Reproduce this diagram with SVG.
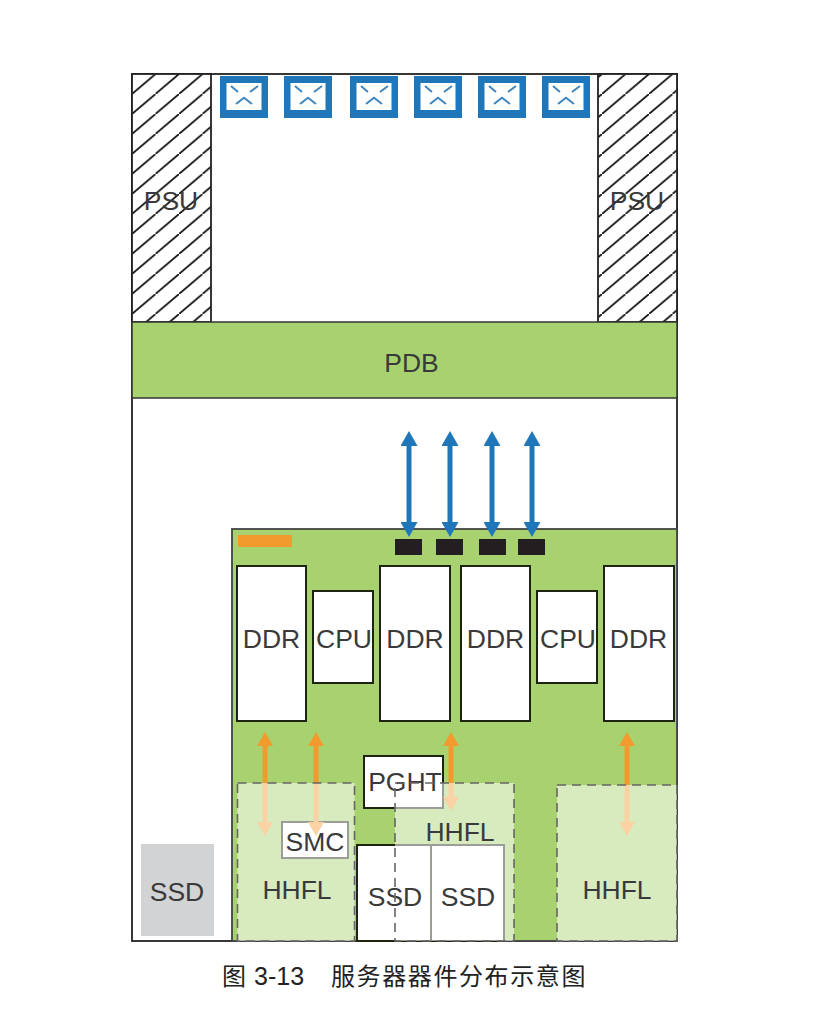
<svg xmlns="http://www.w3.org/2000/svg" width="816" height="1024" viewBox="0 0 816 1024">
  <style>
    text { font-family: "Liberation Sans", "Noto Sans CJK SC", sans-serif; font-size: 26.5px; fill: #3a3a3a; text-anchor: middle; }
    .cap { font-size: 24px; fill: #222; text-anchor: start; }
    .chip { fill: #fff; stroke: #1d2410; stroke-width: 2; }
    .fanbody { fill: #1f76b8; }
    .fanface { fill: #fff; }
    .fanmark { fill: none; stroke: #3f86bd; stroke-width: 2; }
    .port { fill: #231f20; }
    .veil { fill: #fff; fill-opacity: .56; }
    .edge { fill: none; stroke: #666; stroke-width: 1.6; stroke-dasharray: 9 6; }
    .blue { stroke: #1f76b8; stroke-width: 5; marker-start: url(#headBlue); marker-end: url(#headBlue); }
    .orange { stroke: #f39a2e; stroke-width: 5; marker-start: url(#headOrange); marker-end: url(#headOrange); }
  </style>
  <defs>
    <pattern id="hatch" patternUnits="userSpaceOnUse" x="132" y="74" width="23.5" height="20">
      <path d="M-2 21.7L25.5 -1.7" stroke="#1a1a1a" stroke-width="1.8" fill="none"/>
    </pattern>
    <marker id="headBlue" markerUnits="userSpaceOnUse" markerWidth="17" markerHeight="17" viewBox="0 0 17 17" refX="5" refY="8.5" orient="auto-start-reverse">
      <path d="M0 0L15 8.5L0 17Z" fill="#1f76b8"/>
    </marker>
    <marker id="headOrange" markerUnits="userSpaceOnUse" markerWidth="16" markerHeight="16" viewBox="0 0 16 16" refX="4" refY="8" orient="auto-start-reverse">
      <path d="M0 0L14 8L0 16Z" fill="#f39a2e"/>
    </marker>
    <g id="fan">
      <rect class="fanbody" x="0" y="0" width="48" height="42"/>
      <rect class="fanface" x="6.500" y="7" width="35" height="27"/>
      <path class="fanmark" d="M11 10L18 16M38 10L30 16M16 28L24 21.700L32 28"/>
    </g>
  </defs>

  <g id="chassis">
    <rect x="132" y="74" width="545" height="867" fill="#fff" stroke="#222" stroke-width="1.8"/>
  </g>

  <g id="psu-left">
    <rect x="132" y="74" width="79" height="248" fill="#fff"/>
    <rect x="132" y="74" width="79" height="248" fill="url(#hatch)" stroke="#222" stroke-width="1.8"/>
    <text x="171" y="210">PSU</text>
  </g>
  <g id="psu-right">
    <rect x="598" y="74" width="79" height="248" fill="#fff"/>
    <rect x="598" y="74" width="79" height="248" fill="url(#hatch)" stroke="#222" stroke-width="1.8"/>
    <text x="637" y="210">PSU</text>
  </g>

  <g id="fans">
    <use href="#fan" x="220" y="76"/>
    <use href="#fan" x="284" y="76"/>
    <use href="#fan" x="350" y="76"/>
    <use href="#fan" x="414" y="76"/>
    <use href="#fan" x="478" y="76"/>
    <use href="#fan" x="542" y="76"/>
  </g>

  <g id="pdb">
    <rect x="132" y="322" width="545" height="76" fill="#a7d26f" stroke="#333" stroke-width="1.5"/>
    <text x="411.500" y="372">PDB</text>
  </g>

  <g id="board">
    <rect x="232" y="529" width="445" height="412" fill="#a7d26f" stroke="#444" stroke-width="1.8"/>
    <rect x="238" y="535" width="54" height="12" fill="#f39a2e"/>
    <rect class="port" x="395" y="539" width="27" height="16"/>
    <rect class="port" x="436" y="539" width="27" height="16"/>
    <rect class="port" x="479" y="539" width="27" height="16"/>
    <rect class="port" x="518" y="539" width="27" height="16"/>
  </g>

  <g id="ddr-1"><rect class="chip" x="237" y="566" width="69" height="155"/><text x="271.500" y="648">DDR</text></g>
  <g id="cpu-1"><rect class="chip" x="313" y="591" width="60" height="92"/><text x="344" y="648">CPU</text></g>
  <g id="ddr-2"><rect class="chip" x="380" y="566" width="70" height="155"/><text x="415" y="648">DDR</text></g>
  <g id="ddr-3"><rect class="chip" x="461" y="566" width="69" height="155"/><text x="495.500" y="648">DDR</text></g>
  <g id="cpu-2"><rect class="chip" x="537" y="591" width="60" height="92"/><text x="568" y="648">CPU</text></g>
  <g id="ddr-4"><rect class="chip" x="604" y="566" width="70" height="155"/><text x="638.500" y="648">DDR</text></g>

  <g id="pght-box"><rect class="chip" x="364" y="756" width="79" height="52"/></g>
  <g id="smc-box"><rect class="chip" x="282" y="822" width="66" height="36"/></g>
  <g id="ssd-boxes">
    <rect class="chip" x="357" y="845" width="74" height="96"/>
    <rect class="chip" x="431" y="845" width="73" height="96"/>
  </g>

  <g id="connectors">
    <line class="blue" x1="409" y1="441" x2="409" y2="527"/>
    <line class="blue" x1="450" y1="441" x2="450" y2="527"/>
    <line class="blue" x1="492" y1="441" x2="492" y2="527"/>
    <line class="blue" x1="532" y1="441" x2="532" y2="527"/>
    <line class="orange" x1="265" y1="742" x2="265" y2="826"/>
    <line class="orange" x1="316" y1="742" x2="316" y2="826"/>
    <line class="orange" x1="451" y1="742" x2="451" y2="801"/>
    <line class="orange" x1="627" y1="742" x2="627" y2="826"/>
  </g>

  <!-- translucent card bodies sit over the parts below them; labels stay crisp on top -->
  <g id="hhfl-1"><rect class="veil" x="237.500" y="783" width="117" height="158"/></g>
  <g id="hhfl-2"><rect class="veil" x="395" y="783" width="119" height="158"/></g>
  <g id="hhfl-3"><rect class="veil" x="557" y="785" width="120" height="156"/></g>

  <g id="labels">
    <text x="405" y="791">PGHT</text>
    <text x="315" y="851">SMC</text>
    <text x="297" y="899">HHFL</text>
    <text x="460" y="841">HHFL</text>
    <text x="617" y="899">HHFL</text>
    <text x="395" y="906">SSD</text>
    <text x="468" y="906">SSD</text>
  </g>

  <!-- dashed card outlines run across the labels -->
  <g id="hhfl-edges">
    <rect class="edge" x="237.500" y="783" width="117" height="158"/>
    <rect class="edge" x="395" y="783" width="119" height="158"/>
    <rect class="edge" x="557" y="785" width="120" height="156"/>
  </g>

  <g id="ssd-loose">
    <rect x="141" y="844" width="73" height="92" fill="#d1d3d4"/>
    <text x="177" y="901">SSD</text>
  </g>

  <g id="caption">
    <text class="cap" x="222" y="985">图</text>
    <text class="cap" x="254" y="985" style="font-size:25px">3-13</text>
    <text class="cap" x="331" y="985" style="letter-spacing:1.6px">服务器器件分布示意图</text>
  </g>
</svg>
